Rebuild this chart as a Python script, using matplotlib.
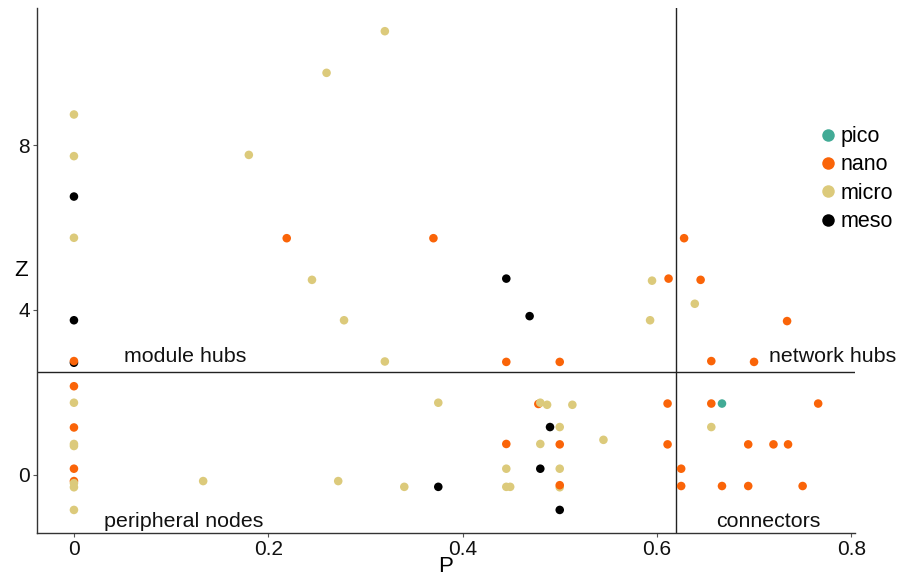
import matplotlib
matplotlib.use("Agg")
import matplotlib.pyplot as plt
from matplotlib.lines import Line2D
from matplotlib.ticker import FuncFormatter

plt.rcParams["font.family"] = ["Liberation Sans", "DejaVu Sans"]

# among-module connectivity (P), within-module degree (Z), size class
p_vals = [
    # meso
    0, 0.445, 0, 0, 0.469, 0.375, 0.49, 0.48, 0.5,
    # nano
    0.219, 0.37, 0.628, 0.612, 0.645, 0.734, 0, 0, 0, 0, 0,
    0.445, 0.5, 0.656, 0.7, 0.478, 0.611, 0.656, 0.766,
    0.445, 0.5, 0.611, 0.694, 0.72, 0.735, 0.625,
    0.625, 0.667, 0.694, 0.75,
    # micro
    0, 0, 0, 0.18, 0.26, 0.32, 0.245, 0.595, 0.278, 0.32, 0.593, 0.639,
    0, 0, 0, 0, 0, 0, 0.133, 0.272, 0.34, 0.375, 0.487, 0.513,
    0.5, 0.656, 0.545, 0.48, 0.445, 0.5, 0.445, 0.449, 0.5, 0.48,
    # pico
    0.667,
    # nano drawn last
    0.5,
]
z_vals = [
    6.75, 4.76, 3.75, 2.72, 3.85, -0.29, 1.16, 0.15, -0.85,
    5.74, 5.74, 5.74, 4.76, 4.73, 3.73, 2.76, 2.15, 1.15, 0.15, -0.15,
    2.74, 2.74, 2.76, 2.74, 1.72, 1.73, 1.73, 1.73,
    0.75, 0.74, 0.74, 0.74, 0.74, 0.74, 0.15,
    -0.27, -0.27, -0.27, -0.27,
    8.74, 7.73, 5.75, 7.76, 9.75, 10.76, 4.73, 4.71, 3.75, 2.75, 3.75, 4.15,
    1.75, 0.75, 0.7, -0.2, -0.3, -0.85, -0.15, -0.15, -0.29, 1.75, 1.70, 1.70,
    1.16, 1.16, 0.85, 0.75, 0.15, 0.15, -0.29, -0.29, -0.3, 1.75,
    1.73,
    -0.25,
]
size_class = (["meso"] * 9 + ["nano"] * 30 + ["micro"] * 34
              + ["pico"] + ["nano"])

classes = ["pico", "nano", "micro", "meso"]
colors = {"pico": "#42AB96", "nano": "#FA6408",
          "micro": "#DCCA7B", "meso": "#000000"}

p_cut = 0.62
z_cut = 2.5

fig = plt.figure(figsize=(9.12, 5.79), dpi=100)
ax = fig.add_axes([0.0406, 0.0794, 0.897, 0.9066])

ax.axhline(z_cut, color="#222222", lw=1.0, zorder=1)
ax.axvline(p_cut, color="#222222", lw=1.0, zorder=1)
ax.scatter(p_vals, z_vals, c=[colors[g] for g in size_class],
           s=38, linewidths=0, zorder=3)

ax.set_xlim(-0.038, 0.804)
ax.set_ylim(-1.41, 11.32)
ax.set_xticks([0, 0.2, 0.4, 0.6, 0.8])
ax.set_yticks([0, 4, 8])
fmt = FuncFormatter(lambda v, pos: "%g" % v)
ax.xaxis.set_major_formatter(fmt)
ax.yaxis.set_major_formatter(fmt)
ax.tick_params(labelsize=15, length=3, width=0.8, color="#555555",
               labelcolor="#111111", pad=2)
for side in ["top", "right"]:
    ax.spines[side].set_visible(False)
for side in ["left", "bottom"]:
    ax.spines[side].set_color("#333333")
    ax.spines[side].set_linewidth(1.0)

ax.set_xlabel("P", fontsize=16, labelpad=-2)
ax.set_ylabel("Z", fontsize=16, rotation=0, va="center")
ax.yaxis.set_label_coords(-0.019, 0.5)

txt = dict(fontsize=15.4, va="center", ha="left", clip_on=False, color="#111111")
ax.text(0.052, 2.86, "module hubs", **txt)
ax.text(0.715, 2.86, "network hubs", **txt)
ax.text(0.031, -1.12, "peripheral nodes", **txt)
ax.text(0.661, -1.14, "connectors", **txt)

handles = [Line2D([], [], marker="o", ls="", color=colors[c], markersize=9,
                  markeredgewidth=0) for c in classes]
fig.legend(handles, classes, loc="upper left", bbox_to_anchor=(0.886, 0.797),
           frameon=False, fontsize=15.5, handletextpad=0.0, labelspacing=0.34,
           handlelength=1.1, borderaxespad=0)

fig.savefig("out.png", dpi=100)
